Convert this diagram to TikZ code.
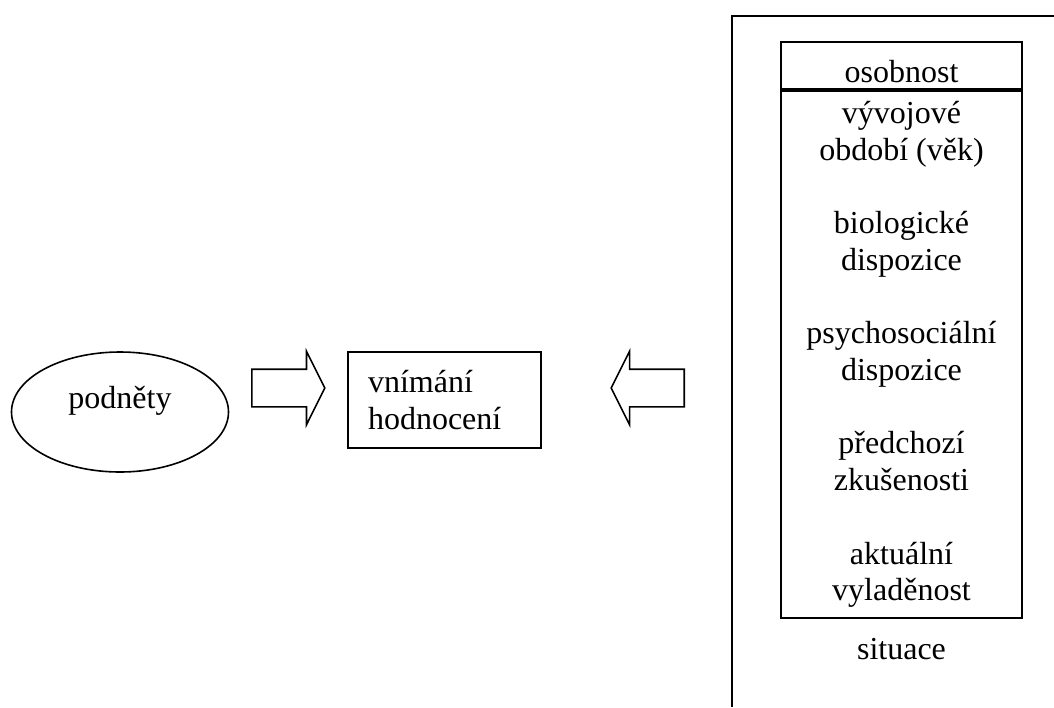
\documentclass[tikz,border=0pt]{standalone}
\usepackage{fontspec}
\setmainfont{Liberation Serif}
\usetikzlibrary{positioning,shapes.geometric,shapes.arrows}

\begin{document}
\begin{tikzpicture}[x=0.5pt,y=-0.5pt,
			font=\fontsize{16pt}{18.35pt}\selectfont,
			box/.style={draw,line width=1pt,rectangle,inner sep=0pt},
			oval/.style={draw,line width=0.8pt,ellipse,inner sep=0pt},
			blokarrow/.style={draw,line width=0.8pt,single arrow,inner sep=0pt,
				text height=18pt,text depth=0pt,minimum height=36.5pt,
				single arrow head extend=9pt,single arrow tip angle=127}]
			\useasboundingbox (0,0) rectangle (1054,707);
			\node (podnety) [oval,minimum width=108.5pt,minimum height=60pt,
				text height=11pt,text depth=15pt] at (120,412) {podněty};
			\node (vpravo) [blokarrow,anchor=tail] at (251,388) {};
			\node (vnimani) [box,text width=76.5pt,inner xsep=10pt,
				minimum height=48pt,align=left] at (444.5,400) {vnímání\\hodnocení};
			\node (vlevo) [blokarrow,shape border rotate=180,anchor=tail] at (685,388) {};
			\draw [line width=1pt] (1054,16) -| (732,707);
			\node (osob) [box,minimum width=120.5pt,minimum height=23.5pt,
				text height=16.5pt,text depth=0pt] at (901.5,65.5) {osobnost};
			\node (faktory) [box,below=0pt of osob,minimum width=120.5pt,
				minimum height=263.5pt,align=center] {vývojové\\období (věk)\\[\baselineskip]
				biologické\\dispozice\\[\baselineskip]
				psychosociální\\dispozice\\[\baselineskip]
				předchozí\\zkušenosti\\[\baselineskip]
				aktuální\\vyladěnost};
			\node (situace) [below=6pt of faktory] {situace};
		\end{tikzpicture}
\end{document}
